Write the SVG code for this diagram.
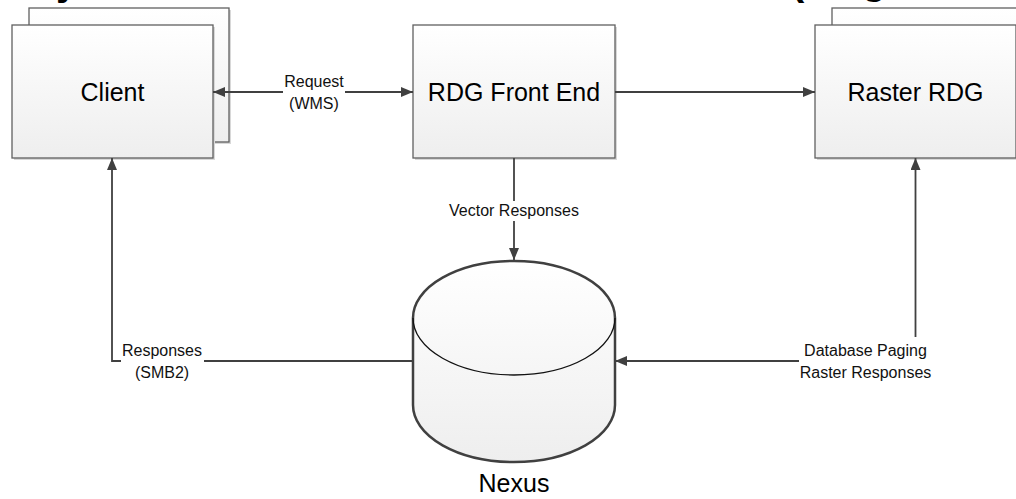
<svg xmlns="http://www.w3.org/2000/svg" width="1016" height="499" viewBox="0 0 1016 499">
<style>
.box{fill:url(#g);stroke:#606060;stroke-width:1.3}
.sh{fill:#d8d8d8}
.big{font-family:"Liberation Sans",Arial,sans-serif;font-size:25px;fill:#000;text-anchor:middle}
.lbl{font-family:"Liberation Sans",Arial,sans-serif;font-size:16px;fill:#111;text-anchor:middle}
.ln{fill:none;stroke:#404040;stroke-width:1.8}
.ttl{font-family:"Liberation Sans",Arial,sans-serif;font-size:40px;font-weight:bold;fill:#000}
</style>
<defs>
<linearGradient id="g" x1="0" y1="0" x2="0" y2="1">
<stop offset="0" stop-color="#ffffff"/>
<stop offset="1" stop-color="#eeeeee"/>
</linearGradient>
<marker id="ah" viewBox="0 0 12 10" refX="12" refY="5" markerWidth="12" markerHeight="10" markerUnits="userSpaceOnUse" orient="auto-start-reverse">
<path d="M0,0 L12,5 L0,10 Z" fill="#404040"/>
</marker>
</defs>
<rect width="1016" height="499" fill="#fff"/>
<g id="title">
<text class="ttl" x="56" y="-5">y</text>
<text class="ttl" x="791" y="-5">(</text>
<text class="ttl" x="862" y="-6">g</text>
</g>
<g id="client">
<rect class="sh" x="31" y="10" width="200" height="134"/>
<rect class="box" x="29" y="8" width="200" height="134"/>
<rect class="sh" x="14" y="27" width="201" height="133"/>
<rect class="box" x="12" y="25" width="201" height="133"/>
<text class="big" x="112.5" y="101">Client</text>
</g>
<g id="rdg-front-end">
<rect class="sh" x="415" y="27" width="202" height="133"/>
<rect class="box" x="413" y="25" width="202" height="133"/>
<text class="big" x="514" y="101">RDG Front End</text>
</g>
<g id="raster-rdg">
<rect class="box" x="832" y="8" width="200" height="134"/>
<rect class="sh" x="817" y="27" width="201" height="133"/>
<rect class="box" x="815" y="25" width="201" height="133"/>
<text class="big" x="915.5" y="101">Raster RDG</text>
</g>
<g id="nexus">
<path d="M413,318 A101,57 0 0,1 615,318 L615,405 A101,57 0 0,1 413,405 Z" fill="url(#g)" stroke="#404040" stroke-width="2.5"/>
<path d="M413,318 A101,57 0 0,0 615,318" fill="none" stroke="#111" stroke-width="1.3"/>
<text class="big" x="514" y="492">Nexus</text>
</g>
<g id="connectors">
<path class="ln" d="M213,92 L413,92" marker-start="url(#ah)" marker-end="url(#ah)"/>
<path class="ln" d="M615,92 L815,92" marker-end="url(#ah)"/>
<path class="ln" d="M514,158 L514,260" marker-end="url(#ah)"/>
<path class="ln" d="M413,361 L112,361 L112,158" marker-end="url(#ah)"/>
<path class="ln" d="M915.5,158 L915.5,361 L615,361" marker-start="url(#ah)" marker-end="url(#ah)"/>
<rect x="283" y="72" width="62" height="40" fill="#fff"/>
<text class="lbl" x="314" y="87">Request</text>
<text class="lbl" x="314" y="109">(WMS)</text>
<rect x="456" y="201" width="116" height="20" fill="#fff"/>
<text class="lbl" x="514" y="216">Vector Responses</text>
<rect x="121" y="340" width="83" height="42" fill="#fff"/>
<text class="lbl" x="162" y="356">Responses</text>
<text class="lbl" x="162" y="378">(SMB2)</text>
<rect x="799" y="337" width="133" height="46" fill="#fff"/>
<text class="lbl" x="865.5" y="356">Database Paging</text>
<text class="lbl" x="865.5" y="378">Raster Responses</text>
</g>
</svg>
